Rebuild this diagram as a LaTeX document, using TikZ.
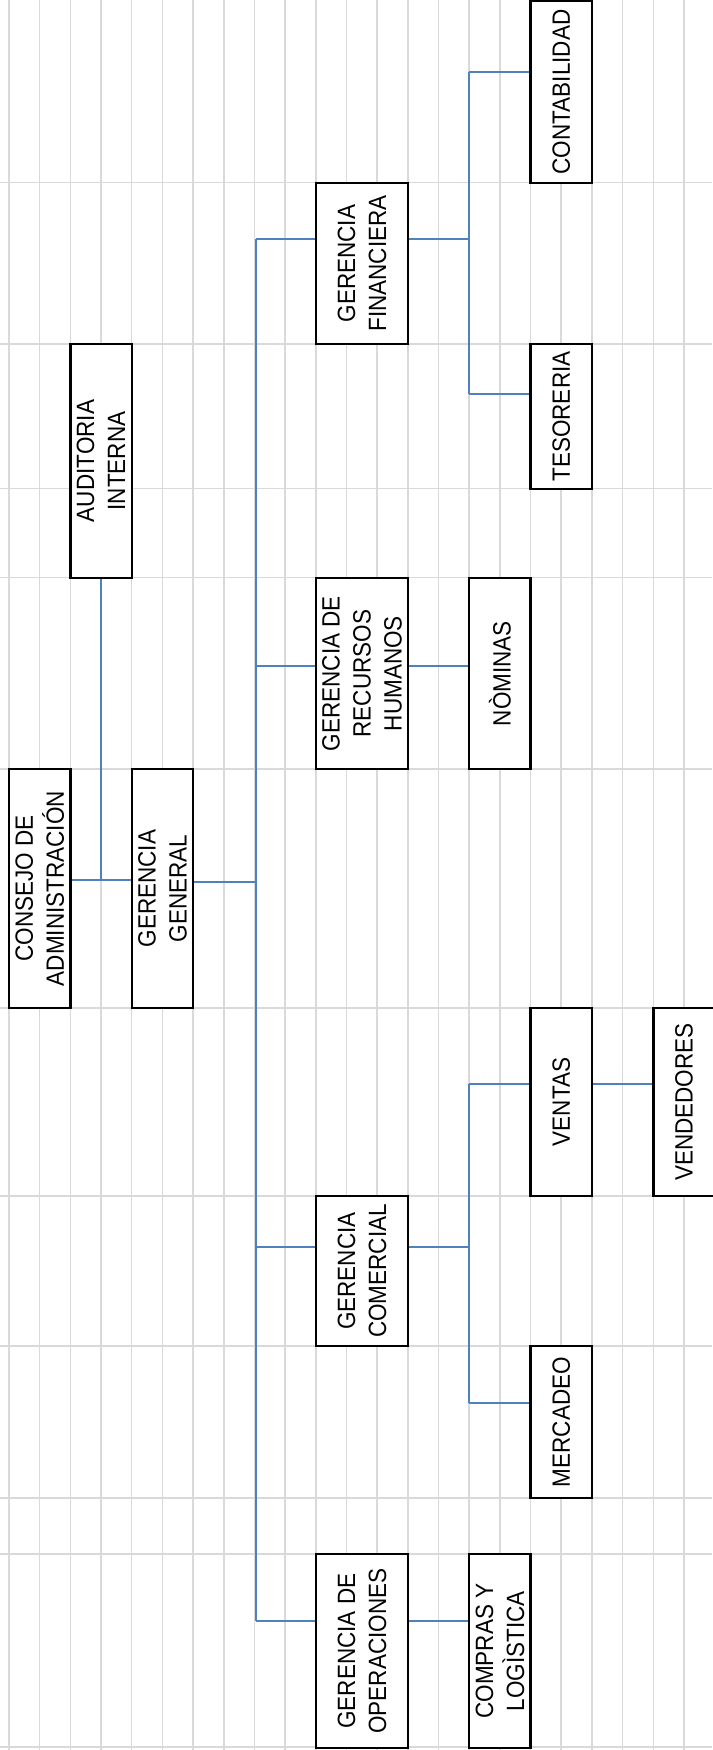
\documentclass[tikz,border=0pt]{standalone}
\usepackage{fontspec}
\newfontfamily\boxfont[FakeStretch=0.9]{Liberation Sans}
\usetikzlibrary{positioning}
\definecolor{linkblue}{RGB}{79,129,189}
\definecolor{cellgray}{RGB}{217,217,217}
\tikzset{
    %Define style for boxes
    unit/.style={
           rectangle,
           draw=black, line width=2.4pt,
           fill=white,
           rotate=90,
           inner sep=0pt,
           align=center,
           font={\boxfont\fontsize{25}{31}\selectfont}},
    narrow/.style={unit, minimum height=61.4pt},
    wide/.style={unit, minimum height=92.2pt},
    % Define connector style
    link/.style={draw=linkblue, line width=2pt},
    cell/.style={draw=cellgray, line width=1.5pt}
}

\begin{document}
\begin{tikzpicture}[x=1pt,y=-1pt]
\useasboundingbox (0,0) rectangle (712,1750);

 %sheet
\foreach \i in {0,...,22}
  \draw[cell] ({9+30.68*\i},0) -- ({9+30.68*\i},1750);
\foreach \j in {182.5,344,488.5,577.5,769,1008,1196,1346,1498,1554,1747}
  \draw[cell] (0,\j) -- (712,\j);

 %nodes
\node[narrow, minimum width=182pt](1) at (561.3,92){CONTABILIDAD};
\node[wide, minimum width=161pt](2) at (361.9,263.5){GERENCIA\\FINANCIERA};
\node[narrow, minimum width=145pt](3) at (561.3,416.5){TESORERIA};
\node[narrow, minimum width=234pt](4) at (101,461){AUDITORIA\\INTERNA};
\node[wide, minimum width=191pt](5) at (361.9,673.5){GERENCIA DE\\RECURSOS\\HUMANOS};
\node[narrow, minimum width=191pt](6) at (499.9,673.5){NÒMINAS};
\node[narrow, minimum width=239pt](7) at (39.7,888.5){CONSEJO DE\\ADMINISTRACIÓN};
\node[narrow, minimum width=239pt](8) at (162.4,888.5){GERENCIA\\GENERAL};
\node[narrow, minimum width=188pt](9) at (561.3,1102){VENTAS};
\node[narrow, minimum width=188pt](10) at (684,1102){VENDEDORES};
\node[wide, minimum width=150pt](11) at (361.9,1271){GERENCIA\\COMERCIAL};
\node[narrow, minimum width=152pt](12) at (561.3,1422){MERCADEO};
\node[wide, minimum width=194pt](13) at (361.9,1651){GERENCIA DE\\OPERACIONES};
\node[narrow, minimum width=194pt](14) at (499.9,1651){COMPRAS Y\\LOGÌSTICA};

 %junctions
\coordinate (top) at (256,239);
\coordinate (bot) at (256,1621);
\coordinate (rh) at (256,666);
\coordinate (com) at (256,1247);
\coordinate (gg) at (256,882);
\coordinate (aud) at (101,880);
\coordinate (fin1) at (469,72);
\coordinate (fin2) at (469,394);
\coordinate (com1) at (469,1084);
\coordinate (com2) at (469,1403);

 %links
\draw[link] (top) -- (bot);
\draw[link] (top) -- (2.north |- top);
\draw[link] (rh) -- (5.north |- rh);
\draw[link] (com) -- (11.north |- com);
\draw[link] (bot) -- (13.north |- bot);
\draw[link] (8.south |- gg) -- (gg);
\draw[link] (7.south |- aud) -- (8.north |- aud);
\draw[link] (4.west) -- (aud);
\draw[link] (fin1) -- (fin2);
\draw[link] (2.south |- top) -- (fin1 |- top);
\draw[link] (fin1) -- (1.north |- fin1);
\draw[link] (fin2) -- (3.north |- fin2);
\draw[link] (5.south |- rh) -- (6.north |- rh);
\draw[link] (com1) -- (com2);
\draw[link] (11.south |- com) -- (com1 |- com);
\draw[link] (com1) -- (9.north |- com1);
\draw[link] (com2) -- (12.north |- com2);
\draw[link] (9.south |- com1) -- (10.north |- com1);
\draw[link] (13.south |- bot) -- (14.north |- bot);

\end{tikzpicture}
\end{document}
